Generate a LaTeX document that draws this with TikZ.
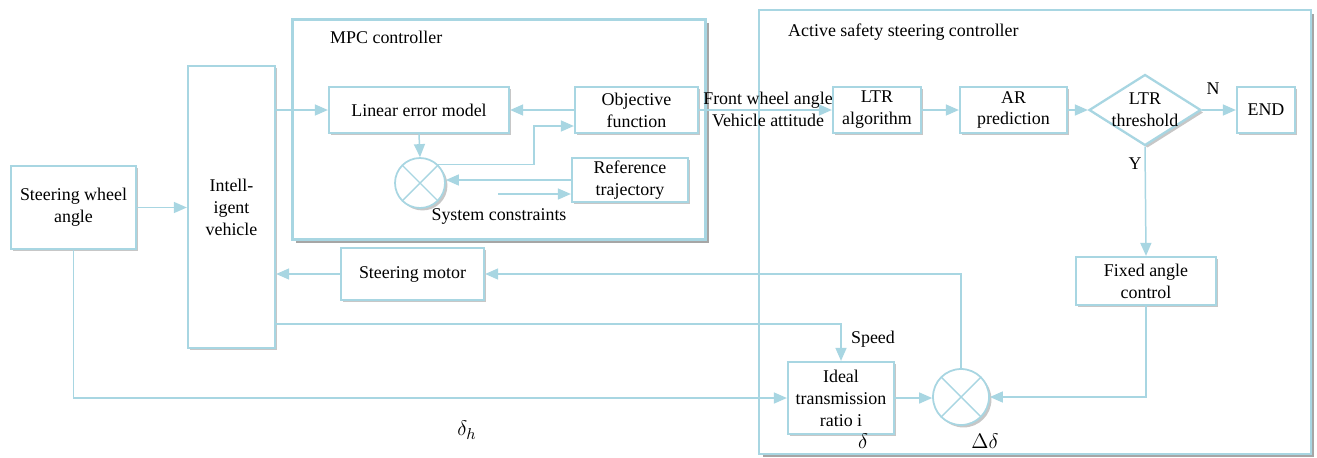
\documentclass[tikz,border=0pt]{standalone}
\usepackage{fontspec}
\setmainfont{Liberation Serif}
\usetikzlibrary{arrows.meta,shapes.geometric,shadows}

\definecolor{boxblue}{RGB}{168,214,226}

\tikzset{
  blk/.style={draw=boxblue, line width=1.3pt, fill=white, align=center, inner sep=1pt,
    drop shadow={shadow xshift=1.4pt, shadow yshift=-1.4pt, fill=black, opacity=0.22}},
  frame/.style={draw=boxblue, line width=1.7pt, fill=white,
    drop shadow={shadow xshift=2pt, shadow yshift=-2pt, fill=black, opacity=0.35}},
  decision/.style={blk, diamond, inner sep=0pt},
  summer/.style={blk, circle, inner sep=0pt, line width=1pt,
    path picture={\draw[boxblue, line width=0.8pt]
      (path picture bounding box.north west) -- (path picture bounding box.south east)
      (path picture bounding box.north east) -- (path picture bounding box.south west);}},
  wire/.style={draw=boxblue, line width=0.85pt},
  arr/.style={wire, -{Triangle[length=0.26cm,width=0.22cm]}},
  sym/.style={font=\fontsize{12.5}{14}\selectfont},
}

\begin{document}
\begin{tikzpicture}[x=0.02cm, y=-0.02cm,
  every node/.append style={font=\fontsize{10.2}{12.5}\selectfont}]
%\draw[help lines] (0,0) grid (1317,457);
\useasboundingbox (0,0) rectangle (1317,457);

% the two controllers
\node[frame, minimum width=8.28cm, minimum height=4.42cm] (mpc) at (499,129.5) {};
\node[anchor=west] at (324,37) {MPC controller};
\node[frame, line width=1.4pt, opacity=1, minimum width=11.04cm, minimum height=8.88cm] (act) at (1035,232) {};
\node[anchor=west] at (782,32) {Active safety steering controller};

\node[blk, minimum width=2.5cm, minimum height=1.66cm] (swa) at (73.5,207.5) {Steering wheel\\angle};
\node[blk, minimum width=1.74cm, minimum height=5.64cm] (iv) at (231.5,207) {Intell-\\igent\\vehicle};

\node[blk, minimum width=3.6cm, minimum height=0.92cm] (lem) at (419,110) {Linear error model};
\node[blk, minimum width=2.46cm, minimum height=0.92cm] (obj) at (636.5,110) {Objective\\function};
\node[blk, minimum width=2.32cm, minimum height=0.88cm] (ref) at (630,180) {Reference\\trajectory};
\node[summer, minimum size=1.0cm] (sum1) at (420,183) {};
\node (sysc) at (499,216) {System constraints};
\coordinate (sc) at (498,194);
\coordinate (k1) at (534,126);

\node[blk, minimum width=2.86cm, minimum height=1.04cm] (sm) at (412.5,274) {Steering motor};

\node[align=center] (fwa) at (768,109) {Front wheel angle\\Vehicle attitude};
\node[blk, minimum width=1.76cm, minimum height=0.92cm] (ltr) at (877,110) {LTR\\algorithm};
\node[blk, minimum width=2.14cm, minimum height=0.92cm] (ar) at (1013.5,110) {AR\\prediction};
\node[decision, minimum width=2.24cm, minimum height=1.42cm,
  label={[align=center]center:LTR\\threshold}] (thr) at (1145,110) {};
\node[blk, minimum width=1.16cm, minimum height=0.92cm] (endb) at (1266,110) {END};
\node[blk, minimum width=2.8cm, minimum height=0.96cm] (fac) at (1146,281) {Fixed angle\\control};
\node[blk, minimum width=2.12cm, minimum height=1.44cm] (itr) at (841,398) {Ideal\\transmission\\ratio i};
\node[summer, minimum size=1.12cm] (sum2) at (961,397) {};

\node at (1213,89) {N};
\node at (1135,164) {Y};
\node at (873,339) {Speed};
\node[sym] at (863,441) {$\delta$};
\node[sym] at (985,441) {$\Delta\delta$};
\node[sym] at (467,430) {$\delta_h$};
\coordinate (spd) at (842,324);

\draw[arr] (swa.east) -- (swa.east -| iv.west);
\draw[arr] (iv.east |- lem.west) -- (lem.west);
\draw[arr] (obj.west) -- (lem.east);
\draw[arr] (lem.south) -- (sum1.north);
\draw[arr] (sum1.45) -- (sum1.45 -| k1) -- (k1) -- (k1 -| obj.west);
\draw[arr] (ref.west) -- (ref.west -| sum1.east);
\draw[arr] (sc) -- (sc -| ref.west);

\draw[arr] (obj.east) -- (ltr.west);
\draw[arr] (ltr.east) -- (ar.west);
\draw[arr] (ar.east) -- (thr.west);
\draw[arr] (thr.east) -- (endb.west);
\draw[arr] (thr.south) -- (fac.north);
\draw[arr] (fac.south) |- (sum2.east);
\draw[arr] (itr.east) -- (itr.east -| sum2.west);
\draw[arr] (sum2.north) |- (sm.east);
\draw[arr] (sm.west) -- (sm.west -| iv.east);
\draw[arr] (iv.east |- spd) -| (itr.north);
\draw[arr] (swa.south) |- (itr.west);
\end{tikzpicture}
\end{document}
